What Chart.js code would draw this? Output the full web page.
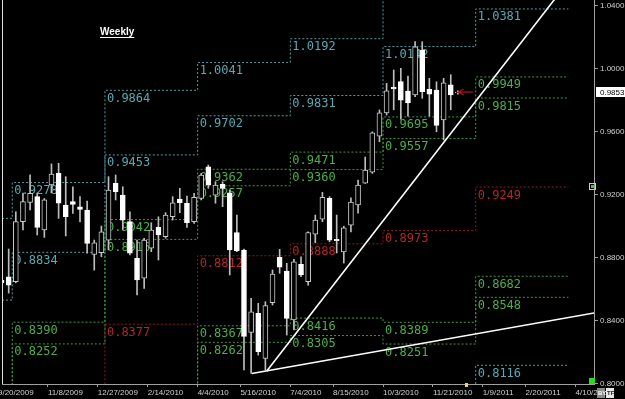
<!DOCTYPE html>
<html><head><meta charset="utf-8">
<script src="https://cdn.jsdelivr.net/npm/chart.js@4/dist/chart.umd.min.js"></script>
<style>html,body{margin:0;padding:0;background:#000;overflow:hidden}#wrap{width:625px;height:399px;position:relative}</style>
</head><body><div id="wrap"><canvas id="c" width="625" height="399"></canvas></div>
<script>
// weekly candles, week index 0 = week of 9/20/2009
const weeks  = [0,1,2,3,4,5,6,7,8,9,10,11,12,13,14,15,16,17,18,19,20,21,22,23,24,25,26,27,28,29,30,31,32,33,34,35,36,37,38,39,40,41,42,43,44,45,46,47,48,49,50,51,52,53,54,55,56,57,58,59,60,61,62,63,64];
const opens  = [0.8658,0.8679,0.8647,0.9029,0.9152,0.9188,0.8976,0.9262,0.9336,0.9135,0.9156,0.9124,0.9103,0.8820,0.8832,0.8912,0.9273,0.9198,0.9029,0.8796,0.8669,0.8860,0.8993,0.8933,0.9060,0.9173,0.9146,0.9029,0.9177,0.9378,0.9198,0.9266,0.9213,0.8959,0.8849,0.8325,0.8446,0.8160,0.8514,0.8802,0.8715,0.8404,0.8758,0.8647,0.8950,0.9044,0.9177,0.8916,0.8836,0.9007,0.9135,0.9274,0.9344,0.9573,0.9720,0.9884,0.9919,0.9859,0.9834,1.0120,0.9870,0.9866,0.9675,0.9898,0.9848];
const highs  = [0.8785,0.8855,0.9092,0.9211,0.9326,0.9211,0.9176,0.9396,0.9400,0.9315,0.9251,0.9188,0.9160,0.8912,0.9001,0.9315,0.9326,0.9251,0.9092,0.8912,0.8923,0.9022,0.9060,0.9086,0.9188,0.9241,0.9192,0.9209,0.9336,0.9389,0.9283,0.9283,0.9230,0.9071,0.8855,0.8542,0.8510,0.8520,0.8722,0.8853,0.8764,0.8790,0.8806,0.8965,0.9071,0.9215,0.9188,0.9071,0.9000,0.9180,0.9294,0.9440,0.9600,0.9739,0.9908,0.9993,1.0004,0.9955,1.0173,1.0173,0.9940,0.9918,0.9940,0.9963,0.9860];
const lows   = [0.8531,0.8575,0.8640,0.8976,0.9103,0.8944,0.8929,0.9211,0.9050,0.8938,0.9082,0.9027,0.8828,0.8721,0.8806,0.8849,0.9167,0.8976,0.8817,0.8563,0.8605,0.8838,0.8785,0.8923,0.9039,0.9086,0.8993,0.9018,0.9167,0.9241,0.9146,0.9124,0.8690,0.8838,0.8087,0.8065,0.8181,0.8086,0.8499,0.8701,0.8308,0.8340,0.8679,0.8626,0.8895,0.9029,0.8901,0.8830,0.8766,0.8963,0.9083,0.9272,0.9336,0.9537,0.9707,0.9740,0.9680,0.9700,0.9823,0.9813,0.9700,0.9600,0.9548,0.9740,0.9840];
const closes = [0.8639,0.8626,0.9029,0.9156,0.9209,0.8993,0.9167,0.9332,0.9146,0.9060,0.9139,0.9107,0.8891,0.8895,0.8965,0.9230,0.9219,0.9039,0.8828,0.8658,0.8912,0.8976,0.8944,0.9071,0.9149,0.9149,0.9022,0.9184,0.9325,0.9262,0.9262,0.9241,0.8849,0.8844,0.8300,0.8456,0.8202,0.8495,0.8696,0.8739,0.8414,0.8774,0.8690,0.8959,0.9039,0.9184,0.8912,0.8908,0.8989,0.9154,0.9262,0.9357,0.9593,0.9720,0.9860,0.9872,0.9802,0.9784,1.0141,0.9855,0.9840,0.9640,0.9912,0.9835,0.9853];

// x axis ticks (week index -> date label)
const tickWeeks  = [0,7,14,21,28,34,41,47,54,61,68,74,81];
const tickLabels = ['9/20/2009','11/8/2009','12/27/2009','2/14/2010','4/4/2010','5/16/2010','7/4/2010','8/15/2010','10/3/2010','11/21/2010','1/9/2011','2/20/2011','4/10/2011'];
const yTicks = [0.80,0.84,0.88,0.92,0.96,1.00,1.04];

// quarterly levels: value at start of each quarter (week index)
const quarterStarts = [0,2,15,28,41,54,67];
const quarterEnd = 80;
const levelOuterHigh  = [0.9050,0.9278,0.9864,1.0041,1.0192,1.0588,1.0815];
const levelHigh       = [0.8530,0.8834,0.9453,0.9702,0.9831,1.0142,1.0381];
const levelGreenHigh2 = [0.7980,0.8390,0.9042,0.9362,0.9471,0.9695,0.9949];
const levelGreenHigh1 = [0.7850,0.8252,0.8916,0.9257,0.9360,0.9557,0.9815];
const levelPivot      = [0.7200,0.7667,0.8377,0.8812,0.8888,0.8973,0.9249];
const levelGreenLow1  = [0.6700,0.7100,0.7838,0.8367,0.8416,0.8389,0.8682];
const levelGreenLow2  = [0.6500,0.6900,0.7712,0.8262,0.8305,0.8251,0.8548];
const levelLow        = [0.6000,0.6500,0.7300,0.7923,0.7945,0.7805,0.8116];

// trend lines [week, price]
const trendSteep   = [[37.7,0.8079],[82,1.0673]];
const trendShallow = [[35.6,0.8064],[84,0.8452]];
const lastPrice = 0.9853;

const CYAN='#4f9ea4', CYAN_T='#5aaab2', GREEN='#3f9a3f', GREEN_T='#4cae4c', RED='#8e1a1a', RED_T='#b02828';
const levelSets = [
  {v:levelOuterHigh,line:CYAN,text:CYAN_T},
  {v:levelHigh,line:CYAN,text:CYAN_T},
  {v:levelGreenHigh2,line:GREEN,text:GREEN_T},
  {v:levelGreenHigh1,line:GREEN,text:GREEN_T},
  {v:levelPivot,line:RED,text:RED_T},
  {v:levelGreenLow1,line:GREEN,text:GREEN_T},
  {v:levelGreenLow2,line:GREEN,text:GREEN_T},
  {v:levelLow,line:CYAN,text:CYAN_T}
];

const datasets = [];
datasets.push({type:'line',label:'trendSteep',data:trendSteep.map(p=>({x:p[0],y:p[1]})),borderColor:'#ffffff',borderWidth:1.6,pointRadius:0,order:0});
datasets.push({type:'line',label:'trendShallow',data:trendShallow.map(p=>({x:p[0],y:p[1]})),borderColor:'#ffffff',borderWidth:1.6,pointRadius:0,order:0});
datasets.push({type:'bar',label:'bodies',
  data:weeks.map((w,i)=>({x:w+0.5,y:[opens[i],closes[i]]})),
  backgroundColor:ctx=>closes[ctx.dataIndex]<opens[ctx.dataIndex]?'#ffffff':'#000000',
  borderColor:ctx=>closes[ctx.dataIndex]<opens[ctx.dataIndex]?'#ffffff':'#c8c8c8',
  borderWidth:1,borderSkipped:false,barThickness:5,grouped:false,order:1});
datasets.push({type:'bar',label:'wicks',
  data:weeks.map((w,i)=>({x:w+0.5,y:[lows[i],highs[i]]})),
  backgroundColor:'#bdbdbd',borderWidth:0,barThickness:1,grouped:false,order:2});
levelSets.forEach((ls,k)=>{
  const pts = quarterStarts.map((q,i)=>({x:q,y:ls.v[i]}));
  pts.push({x:quarterEnd,y:ls.v[ls.v.length-1]});
  datasets.push({type:'line',label:'level'+k,data:pts,stepped:true,borderColor:ls.line,borderWidth:1,borderDash:[2,2],pointRadius:0,order:5});
});

const deco = {
  id:'deco',
  beforeDraw(chart){const c=chart.ctx;c.save();c.fillStyle='#000';c.fillRect(0,0,chart.width,chart.height);c.restore();},
  beforeDatasetDraw(chart,args){
    if(chart.data.datasets[args.index].label!=='wicks')return;
    const xs=chart.scales.x, ys=chart.scales.y, c=chart.ctx, a=chart.chartArea;
    c.save();
    c.beginPath();c.rect(a.left,a.top,a.right-a.left,a.bottom-a.top);c.clip();
    c.font='12px "DejaVu Sans Mono"';c.textAlign='left';c.textBaseline='alphabetic';
    levelSets.forEach(ls=>{
      ls.v.forEach((v,qi)=>{
        if(qi===0)return;
        if(v<ys.min+0.004||v>ys.max-0.002)return;
        c.fillStyle=ls.text;
        c.fillText(v.toFixed(4),xs.getPixelForValue(quarterStarts[qi])+2,ys.getPixelForValue(v)+11.5);
      });
    });
    c.restore();
  },
  afterDraw(chart){
    const xs=chart.scales.x, ys=chart.scales.y, c=chart.ctx, a=chart.chartArea;
    c.save();
    // left border
    c.strokeStyle='#e0e0e0';c.lineWidth=1;
    c.beginPath();c.moveTo(a.left+0.5,a.top);c.lineTo(a.left+0.5,a.bottom);c.stroke();
    // title
    c.fillStyle='#ffffff';c.font='bold 10px "Liberation Sans"';c.textBaseline='alphabetic';c.textAlign='left';
    c.fillText('Weekly',100,35);
    const tw=c.measureText('Weekly').width;
    c.fillRect(100,37,tw,1);
    // arrow
    const py=ys.getPixelForValue(lastPrice);
    const ax0=xs.getPixelForValue(64.6), ax1=xs.getPixelForValue(66.6);
    c.strokeStyle='#b01818';c.lineWidth=1.2;
    c.beginPath();c.moveTo(ax0,py);c.lineTo(ax1,py);c.stroke();
    c.beginPath();c.moveTo(ax0+5,py-3);c.lineTo(ax0,py);c.lineTo(ax0+5,py+3);c.stroke();
    // price tag
    c.fillStyle='#ffffff';c.fillRect(a.right+2,Math.round(py)-5,625-a.right-2,10);
    c.fillStyle='#000000';c.font='8px "Liberation Sans Narrow","Liberation Sans"';c.textBaseline='middle';
    c.fillText(lastPrice.toFixed(4),a.right+6,Math.round(py)+0.5);
    // small icons
    c.strokeStyle='#cccccc';c.lineWidth=1;c.strokeRect(589.5,183.5,6,6);
    c.fillStyle='#3c3';c.fillRect(591,185,3,3);
    c.fillStyle='#22dd22';c.fillRect(589,378,6,6);
    c.fillStyle='#e8d850';c.fillRect(465,383,3,4);
    c.fillStyle='#8a8a8a';c.fillRect(597,388,8,10);
    c.fillStyle='#e8e8e8';c.fillRect(606,388,8,10);
    c.font='bold 6px "Liberation Sans"';c.textBaseline='middle';
    c.fillStyle='#ffffff';c.fillText('BY',598,393.5);
    c.fillStyle='#222222';c.fillText('TF',607,393.5);
    c.restore();
  }
};

new Chart(document.getElementById('c'),{
  type:'bar',
  data:{datasets},
  options:{
    responsive:false,animation:false,devicePixelRatio:1,events:[],
    layout:{padding:{left:2,right:0,top:0,bottom:0}},
    plugins:{legend:{display:false},tooltip:{enabled:false},title:{display:false}},
    scales:{
      x:{type:'linear',min:0.561,max:83.59,offset:false,position:'bottom',
        grid:{display:true,drawOnChartArea:false,drawTicks:true,tickLength:3,color:'#9a9a9a',offset:false},
        border:{display:true,color:'#a0a0a0'},
        ticks:{color:'#d0d0d0',font:{family:'"Liberation Sans Narrow","Liberation Sans"',size:8},autoSkip:false,maxRotation:0,minRotation:0,align:'start',padding:1,
          callback:(v)=>{const i=tickWeeks.indexOf(v);return i>=0?tickLabels[i]:'';}},
        afterBuildTicks:s=>{s.ticks=tickWeeks.map(v=>({value:v}));},
        afterFit:s=>{s.height=15;s.paddingLeft=0;s.paddingRight=0;}
      },
      y:{type:'linear',position:'right',min:0.7997,max:1.0438,
        grid:{display:true,drawOnChartArea:false,drawTicks:true,tickLength:4,color:'#9a9a9a'},
        border:{display:true,color:'#a0a0a0'},
        ticks:{color:'#d0d0d0',font:{family:'"Liberation Sans Narrow","Liberation Sans"',size:8},padding:2,callback:v=>Number(v).toFixed(4)},
        afterBuildTicks:s=>{s.ticks=yTicks.map(v=>({value:v}));},
        afterFit:s=>{s.width=31;s.paddingTop=0;s.paddingBottom=0;}
      }
    }
  },
  plugins:[deco]
});
</script></body></html>
